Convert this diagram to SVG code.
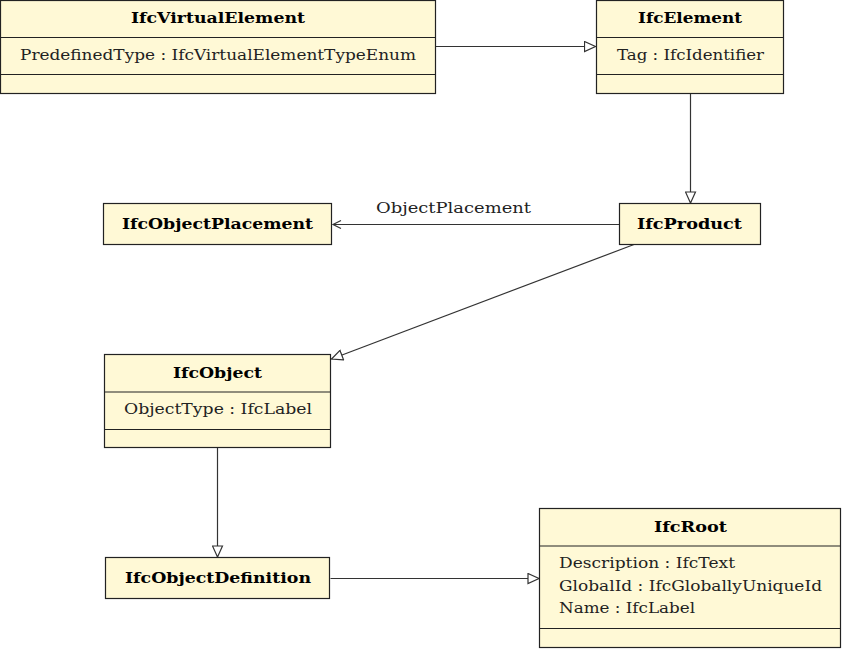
<svg xmlns="http://www.w3.org/2000/svg" width="842" height="649" viewBox="0 0 842 649">
<style>
.box{fill:#fff9d6;stroke:#222;stroke-width:1.2}
.div{stroke:#222;stroke-width:1.2}
.t{font-family:"DejaVu Serif","Liberation Serif",serif;font-size:15px;font-weight:bold;fill:#000;text-anchor:middle}
.a{font-family:"DejaVu Serif","Liberation Serif",serif;font-size:15px;fill:#222}
.c{fill:none;stroke:#333;stroke-width:1.2}
</style>
<defs>
<marker id="tri" markerWidth="14" markerHeight="12" refX="12" refY="6" orient="auto" markerUnits="userSpaceOnUse">
<path d="M1,1 L12,6 L1,11 Z" fill="#fff" stroke="#333" stroke-width="1.2"/>
</marker>
<marker id="open" markerWidth="12" markerHeight="12" refX="10" refY="6" orient="auto" markerUnits="userSpaceOnUse">
<path d="M2,2 L10,6 L2,10" fill="none" stroke="#333" stroke-width="1.2"/>
</marker>
</defs>
<g id="connectors">
<line class="c" x1="435.5" y1="46.5" x2="595.5" y2="46.5" marker-end="url(#tri)"/>
<line class="c" x1="690.5" y1="94" x2="690.5" y2="203" marker-end="url(#tri)"/>
<line class="c" x1="619" y1="224.5" x2="333" y2="224.5" marker-end="url(#open)"/>
<text class="a" x="376" y="213" textLength="155" lengthAdjust="spacingAndGlyphs">ObjectPlacement</text>
<line class="c" x1="634" y1="244.5" x2="331.5" y2="359" marker-end="url(#tri)"/>
<line class="c" x1="217.5" y1="448" x2="217.5" y2="557" marker-end="url(#tri)"/>
<line class="c" x1="330.5" y1="578.5" x2="539" y2="578.5" marker-end="url(#tri)"/>
</g>
<g id="IfcVirtualElement">
<rect class="box" x="0.5" y="0.5" width="435" height="93"/>
<line class="div" x1="0.5" y1="37.5" x2="435.5" y2="37.5"/>
<line class="div" x1="0.5" y1="74.5" x2="435.5" y2="74.5"/>
<text class="t" x="218" y="23" textLength="174" lengthAdjust="spacingAndGlyphs">IfcVirtualElement</text>
<text class="a" x="20" y="60" textLength="396" lengthAdjust="spacingAndGlyphs">PredefinedType : IfcVirtualElementTypeEnum</text>
</g>
<g id="IfcElement">
<rect class="box" x="596.5" y="0.5" width="187" height="93"/>
<line class="div" x1="596.5" y1="37.5" x2="783.5" y2="37.5"/>
<line class="div" x1="596.5" y1="74.5" x2="783.5" y2="74.5"/>
<text class="t" x="690" y="23" textLength="104" lengthAdjust="spacingAndGlyphs">IfcElement</text>
<text class="a" x="617" y="60" textLength="147" lengthAdjust="spacingAndGlyphs">Tag : IfcIdentifier</text>
</g>
<g id="IfcProduct">
<rect class="box" x="619.5" y="203.5" width="141" height="41"/>
<text class="t" x="689.5" y="229" textLength="105" lengthAdjust="spacingAndGlyphs">IfcProduct</text>
</g>
<g id="IfcObjectPlacement">
<rect class="box" x="103.5" y="203.5" width="228" height="41"/>
<text class="t" x="217.5" y="229" textLength="191" lengthAdjust="spacingAndGlyphs">IfcObjectPlacement</text>
</g>
<g id="IfcObject">
<rect class="box" x="104.5" y="354.5" width="226" height="93"/>
<line class="div" x1="104.5" y1="392" x2="330.5" y2="392"/>
<line class="div" x1="104.5" y1="429.5" x2="330.5" y2="429.5"/>
<text class="t" x="217.5" y="378" textLength="89" lengthAdjust="spacingAndGlyphs">IfcObject</text>
<text class="a" x="124" y="414" textLength="188" lengthAdjust="spacingAndGlyphs">ObjectType : IfcLabel</text>
</g>
<g id="IfcObjectDefinition">
<rect class="box" x="105.5" y="557.5" width="224" height="41"/>
<text class="t" x="218" y="583" textLength="186" lengthAdjust="spacingAndGlyphs">IfcObjectDefinition</text>
</g>
<g id="IfcRoot">
<rect class="box" x="539.5" y="508.5" width="301" height="139"/>
<line class="div" x1="539.5" y1="546" x2="840.5" y2="546"/>
<line class="div" x1="539.5" y1="628.5" x2="840.5" y2="628.5"/>
<text class="t" x="690.5" y="532" textLength="73" lengthAdjust="spacingAndGlyphs">IfcRoot</text>
<text class="a" x="559" y="568" textLength="176" lengthAdjust="spacingAndGlyphs">Description : IfcText</text>
<text class="a" x="559" y="591" textLength="263" lengthAdjust="spacingAndGlyphs">GlobalId : IfcGloballyUniqueId</text>
<text class="a" x="559" y="613" textLength="136" lengthAdjust="spacingAndGlyphs">Name : IfcLabel</text>
</g>
</svg>
